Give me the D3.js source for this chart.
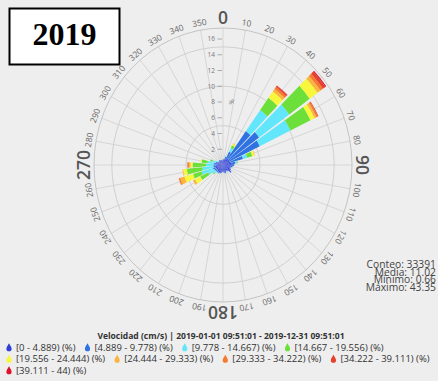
<!DOCTYPE html>
<html>
<head>
<meta charset="utf-8">
<script src="https://cdn.jsdelivr.net/npm/d3@7"></script>
<style>
  html, body { margin: 0; padding: 0; background: #eeeeee; }
  svg { display: block; font-family: "Open Sans", "DejaVu Sans", sans-serif; }
</style>
</head>
<body>
<svg id="chart" width="438" height="381"></svg>
<script>
// ---- data -------------------------------------------------------------
const directions = [0, 10, 20, 30, 40, 50, 60, 70, 80, 90, 100, 110, 120, 130, 140, 150, 160, 170,
                    180, 190, 200, 210, 220, 230, 240, 250, 260, 270, 280, 290, 300, 310, 320, 330, 340, 350];

const binLabels = ["[0 - 4.889) (%)", "[4.889 - 9.778) (%)", "[9.778 - 14.667) (%)", "[14.667 - 19.556) (%)",
                   "[19.556 - 24.444) (%)", "[24.444 - 29.333) (%)", "[29.333 - 34.222) (%)", "[34.222 - 39.111) (%)",
                   "[39.111 - 44) (%)"];

// frequency (%) per direction for each speed class
const bin0to4889 =     [0.6, 0.7, 0.8, 0.9, 1.0, 1.0, 1.0, 1.0, 1.1, 1.2, 1.0, 0.9, 1.1, 1.2, 0.9, 0.8, 1.0, 0.9,
                        0.8, 0.9, 1.0, 1.1, 1.0, 0.9, 1.0, 1.0, 1.0, 1.0, 0.9, 0.8, 0.7, 0.6, 0.7, 0.6, 0.6, 0.5];
const bin4889to9778 =  [0.1, 0.1, 0.3, 1.0, 4.3, 5.0, 4.5, 1.8, 0.6, 0.3, 0.3, 0.2, 0.1, 0.2, 0.1, 0.1, 0.1, 0.1,
                        0.1, 0.1, 0.1, 0.1, 0.2, 0.3, 0.3, 0.4, 0.3, 0.3, 0.3, 0.2, 0.1, 0.1, 0.1, 0.1, 0.1, 0.1];
const bin9778to14667 = [0, 0, 0.1, 0.5, 3.3, 5.0, 4.6, 0.6, 0.2, 0, 0, 0, 0, 0, 0, 0, 0, 0,
                        0, 0, 0, 0, 0.1, 0.3, 0.9, 1.6, 1.5, 1.0, 0.9, 0.5, 0.2, 0, 0, 0, 0, 0];
const bin14667to19556 = [0, 0, 0, 0.4, 1.9, 3.4, 3.0, 0.7, 0.1, 0, 0, 0, 0, 0, 0, 0, 0, 0,
                        0, 0, 0, 0, 0, 0.2, 1.2, 1.2, 2.1, 1.8, 0.8, 0.3, 0, 0, 0, 0, 0, 0];
const bin19556to24444 = [0, 0, 0, 0.2, 1.0, 1.3, 0.6, 0.3, 0, 0, 0, 0, 0, 0, 0, 0, 0, 0,
                        0, 0, 0, 0, 0, 0, 0.8, 1.2, 0.5, 0.3, 0.1, 0, 0, 0, 0, 0, 0, 0];
const bin24444to29333 = [0, 0, 0, 0.05, 0.4, 0.5, 0.3, 0.05, 0, 0, 0, 0, 0, 0, 0, 0, 0, 0,
                        0, 0, 0, 0, 0, 0, 0.3, 0.6, 0.1, 0.2, 0, 0, 0, 0, 0, 0, 0, 0];
const bin29333to34222 = [0, 0, 0, 0, 0.3, 0.4, 0.2, 0, 0, 0, 0, 0, 0, 0, 0, 0, 0, 0,
                        0, 0, 0, 0, 0, 0, 0, 0.2, 0, 0.15, 0, 0, 0, 0, 0, 0, 0, 0];
const bin34222to39111 = [0, 0, 0, 0, 0.2, 0.4, 0.1, 0, 0, 0, 0, 0, 0, 0, 0, 0, 0, 0,
                        0, 0, 0, 0, 0, 0, 0, 0, 0, 0.05, 0, 0, 0, 0, 0, 0, 0, 0];
const bin39111to44 =   [0, 0, 0, 0, 0.05, 0.15, 0, 0, 0, 0, 0, 0, 0, 0, 0, 0, 0, 0,
                        0, 0, 0, 0, 0, 0, 0, 0, 0, 0, 0, 0, 0, 0, 0, 0, 0, 0];

const radialTicks = [2, 4, 6, 8, 10, 12, 14, 16];
const ringValues = [5, 10, 15];
const radialMax = 17.4;

const yearLabel = "2019";
const legendTitle = "Velocidad (cm/s) | 2019-01-01 09:51:01 - 2019-12-31 09:51:01";
const statLabels = ["Conteo", "Media", "Mínimo", "Máximo"];
const statValues = ["33391", "11.02", "0.66", "43.35"];

// ---- styling / layout -------------------------------------------------
const palette = ["#2f3edb", "#2f72e2", "#62e6fb", "#6ddf3a", "#f7f73c", "#fbb53f", "#f47b2d", "#e5402c", "#e0102c"];
const series = [bin0to4889, bin4889to9778, bin9778to14667, bin14667to19556, bin19556to24444,
                bin24444to29333, bin29333to34222, bin34222to39111, bin39111to44];

const cx = 223, cy = 165, R = 129, sy = 1.062;
const barWidthDeg = 8.6;

const svg = d3.select("#chart");
svg.append("rect").attr("width", 438).attr("height", 381).attr("fill", "#eeeeee");

const r = d3.scaleLinear().domain([0, radialMax]).range([0, R]);
const ang = d3.scaleLinear().domain([0, 360]).range([0, 2 * Math.PI]);

const plot = svg.append("g").attr("transform", `translate(${cx},${cy}) scale(1,${sy})`);

// spokes every 10 degrees
plot.append("g").selectAll("line").data(directions).join("line")
  .attr("x1", 0).attr("y1", 0)
  .attr("x2", d => R * Math.sin(ang(d)))
  .attr("y2", d => -R * Math.cos(ang(d)))
  .attr("stroke", "#d6d6d6").attr("stroke-width", 1)
  .attr("vector-effect", "non-scaling-stroke");

// concentric rings
plot.append("g").selectAll("circle").data(ringValues).join("circle")
  .attr("r", d => r(d)).attr("fill", "none")
  .attr("stroke", "#d0d0d0").attr("stroke-width", 1)
  .attr("vector-effect", "non-scaling-stroke");

// stacked sectors
const table = directions.map((dir, i) => {
  const row = { dir };
  series.forEach((s, k) => row["b" + k] = s[i]);
  return row;
});
const keys = series.map((s, k) => "b" + k);
const stacked = d3.stack().keys(keys)(table);

const arc = d3.arc()
  .innerRadius(d => r(d[0]))
  .outerRadius(d => r(d[1]))
  .startAngle(d => ang(d.data.dir - barWidthDeg / 2))
  .endAngle(d => ang(d.data.dir + barWidthDeg / 2));

plot.append("g").selectAll("g").data(stacked).join("g")
  .attr("fill", (d, k) => palette[k])
  .selectAll("path").data(d => d.filter(p => p[1] - p[0] > 0)).join("path")
  .attr("d", arc);

// outer circle
plot.append("circle").attr("r", R).attr("fill", "none")
  .attr("stroke", "#c4c4c4").attr("stroke-width", 1)
  .attr("vector-effect", "non-scaling-stroke");

// radial axis ticks and labels along north
const rad = svg.append("g").attr("fill", "#777").attr("font-size", 6.5);
radialTicks.forEach(v => {
  const y = cy - r(v) * sy;
  rad.append("text").attr("x", 215).attr("y", y).attr("dy", "0.35em")
    .attr("text-anchor", "end").text(v);
  rad.append("line").attr("x1", 217.5).attr("x2", 222).attr("y1", y).attr("y2", y)
    .attr("stroke", "#999").attr("stroke-width", 0.8);
});
rad.append("text")
  .attr("transform", `translate(229,${cy - r(8) * sy}) rotate(90)`)
  .attr("text-anchor", "middle").text("%");

// direction labels round the rim
const dirLabels = svg.append("g");
directions.forEach(d => {
  const big = d % 90 === 0;
  const off = 4;
  const x = cx + (R + off) * Math.sin(ang(d));
  const y = cy - (R + off) * Math.cos(ang(d)) * sy;
  dirLabels.append("text")
    .attr("transform", `translate(${x},${y}) rotate(${d})`)
    .attr("text-anchor", "middle")
    .attr("font-size", big ? 17.5 : 8.5)
    .attr("font-weight", big ? 600 : 400)
    .attr("fill", big ? "#555" : "#666")
    .text(d);
});

// year box
svg.append("rect").attr("x", 9.5).attr("y", 8.5).attr("width", 110).attr("height", 56)
  .attr("fill", "#fff").attr("stroke", "#000").attr("stroke-width", 2);
svg.append("text").attr("x", 64.5).attr("y", 45).attr("text-anchor", "middle")
  .attr("font-family", "'Liberation Serif', 'Times New Roman', serif")
  .attr("font-weight", "bold").attr("font-size", 32).attr("fill", "#000")
  .text(yearLabel);

// statistics block
const stats = svg.append("g").attr("font-size", 10.3).attr("fill", "#444").attr("text-anchor", "end");
statLabels.forEach((lab, i) => {
  stats.append("text").attr("x", 436).attr("y", 268 + i * 7.7).text(`${lab}: ${statValues[i]}`);
});

// legend
svg.append("text").attr("x", 221).attr("y", 339).attr("text-anchor", "middle")
  .attr("font-size", 8.5).attr("font-weight", "bold").attr("fill", "#333")
  .text(legendTitle);

const drop = "M0,-4.3 C0.8,-2.7 2.6,-0.6 2.6,1.2 A2.6,2.6 0 1 1 -2.6,1.2 C-2.6,-0.6 -0.8,-2.7 0,-4.3 Z";
const rows = [[0, 1, 2, 3], [4, 5, 6, 7], [8]];
const rowBase = [350.5, 362, 373.5];
const legend = svg.append("g").attr("font-size", 9.5).attr("fill", "#333");
rows.forEach((row, ri) => {
  let x = 9;
  row.forEach(k => {
    legend.append("path").attr("d", drop)
      .attr("transform", `translate(${x},${rowBase[ri] - 3})`)
      .attr("fill", palette[k]);
    const t = legend.append("text").attr("x", x + 7).attr("y", rowBase[ri]).text(binLabels[k]);
    x += 7 + t.node().getComputedTextLength() + 12;
  });
});
</script>
</body>
</html>
